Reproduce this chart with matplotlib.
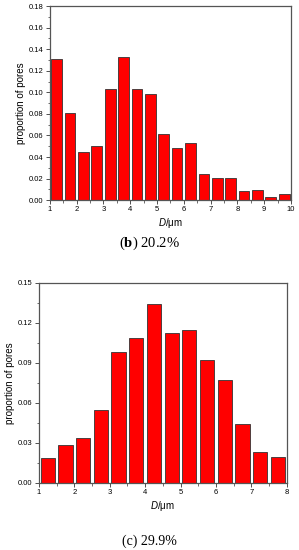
import numpy as np
import matplotlib.pyplot as plt
from matplotlib.ticker import MultipleLocator

# --- data ---
d_b = [1.25, 1.75, 2.25, 2.75, 3.25, 3.75, 4.25, 4.75, 5.25,
       5.75, 6.25, 6.75, 7.25, 7.75, 8.25, 8.75, 9.25, 9.75]
p_b = [0.1305, 0.081, 0.0448, 0.0504, 0.103, 0.1324, 0.103, 0.0987, 0.0615,
       0.0486, 0.0526, 0.0244, 0.021, 0.021, 0.0087, 0.0099, 0.0034, 0.0056]

d_c = [1.25, 1.75, 2.25, 2.75, 3.25, 3.75, 4.25,
       4.75, 5.25, 5.75, 6.25, 6.75, 7.25, 7.75]
p_c = [0.0183, 0.0283, 0.034, 0.0543, 0.098, 0.1085, 0.1338,
       0.1123, 0.1143, 0.0923, 0.0768, 0.0445, 0.0233, 0.0193]

caption_b = ("b", "20.2%")
caption_c = ("c", "29.9%")

plt.rcParams['font.family'] = ['Liberation Sans', 'DejaVu Sans']
plt.rcParams['mathtext.fontset'] = 'custom'
plt.rcParams['mathtext.it'] = 'Liberation Sans:italic'
plt.rcParams['mathtext.bf'] = 'Liberation Serif:bold'
plt.rcParams['mathtext.rm'] = 'Liberation Serif'

fig = plt.figure(figsize=(2.99, 5.5), dpi=100)
ax1 = fig.add_axes([0.167, 0.636, 0.806, 0.353])
ax2 = fig.add_axes([0.130, 0.122, 0.829, 0.364])


def style(ax, xlim, ylim, ystep, fmt):
    ax.set_xlim(*xlim)
    ax.set_ylim(*ylim)
    ax.xaxis.set_major_locator(MultipleLocator(1))
    ax.xaxis.set_minor_locator(MultipleLocator(0.5))
    ax.yaxis.set_major_locator(MultipleLocator(ystep))
    ax.yaxis.set_minor_locator(MultipleLocator(ystep / 2))
    ax.yaxis.set_major_formatter(fmt)
    ax.tick_params(which='major', length=3, width=0.6, labelsize=5.5,
                   direction='out', pad=1.5, color='#333333')
    ax.tick_params(which='minor', length=1.8, width=0.5, direction='out',
                   color='#333333')
    for s in ax.spines.values():
        s.set_color('#555555')
        s.set_linewidth(0.9)
    ax.set_ylabel("proportion of pores", fontsize=7, labelpad=2)
    ax.set_xlabel(r"$\mathit{D}$/μm", fontsize=7, labelpad=2)


ax1.bar(d_b, p_b, width=0.4, color='#ff0000', edgecolor='#333333', linewidth=0.6)
style(ax1, (1, 10), (0, 0.18), 0.02, '{x:.2f}')

ax2.bar(d_c, p_c, width=0.4, color='#ff0000', edgecolor='#333333', linewidth=0.6)
style(ax2, (1, 8), (0, 0.15), 0.03, '{x:.2f}')

fig.text(0.5, 0.558, r"($\mathbf{%s}$) %s" % caption_b, ha='center', va='center',
         fontsize=10.5, family='Liberation Serif')
fig.text(0.5, 0.016, r"(%s) %s" % caption_c, ha='center', va='center',
         fontsize=10, family='Liberation Serif')

plt.savefig("out.png", dpi=100)
